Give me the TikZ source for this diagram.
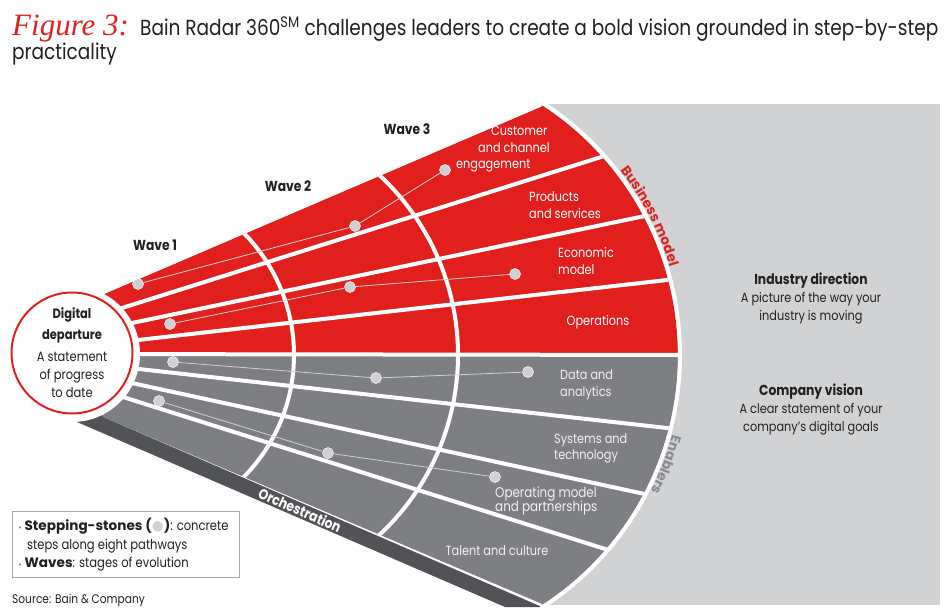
\documentclass[tikz,border=0pt]{standalone}
\usepackage{fontspec}
\setmainfont{Poppins}[FakeStretch=0.85]
\newfontfamily\widefont{Poppins}
\newfontfamily\handfont{Liberation Serif}
\newfontfamily\glyphfont{DejaVu Sans}
\usetikzlibrary{calc,decorations.text}

\definecolor{bainred}{RGB}{225,32,30}
\definecolor{fangray}{RGB}{126,127,131}
\definecolor{banddark}{RGB}{82,83,86}
\definecolor{panelgray}{RGB}{209,210,212}
\definecolor{stonegray}{RGB}{208,209,211}
\definecolor{enablegray}{RGB}{138,139,143}
\definecolor{inkdark}{RGB}{35,31,32}

\begin{document}
\begin{tikzpicture}[x=1pt,y=-1pt]

\tikzstyle{sectorlbl} = [font=\fontsize{13.3}{16.5}\selectfont, text=white, inner sep=0, align=left]%
\tikzstyle{wavelbl} = [font=\fontsize{14.5}{16}\selectfont\bfseries, text=inkdark, inner sep=0]%
\tikzstyle{stone} = [circle, fill=stonegray, draw=white, line width=0.5pt, minimum size=11pt, inner sep=0]%
\tikzstyle{stonelink} = [draw=stonegray, line width=0.8pt]%
\tikzstyle{divider} = [white, line width=4pt]%
\tikzstyle{sidehead} = [font=\fontsize{14.5}{16}\selectfont\bfseries, text=inkdark, inner sep=0]%
\tikzstyle{sidetext} = [font=\fontsize{13.3}{18}\selectfont, text=inkdark, align=center, inner sep=0]%

\useasboundingbox (0,0) rectangle (950,613);

% title
\node[anchor=base west, inner sep=0, text=bainred, font=\fontsize{31}{32}\selectfont\handfont\itshape] (fig) at (12,35) {Figure 3:};
\node[anchor=base west, inner sep=0, text=inkdark, font=\fontsize{21.8}{24}\selectfont] (title) at (140,35)
  {Bain Radar 360\textsuperscript{SM} challenges leaders to create a bold vision grounded in step-by-step};
\node[anchor=base west, inner sep=0, text=inkdark, font=\fontsize{21.8}{24}\selectfont] (title2) at (12,59) {practicality};

% right panel
\fill[panelgray] (541,104) rectangle (940,605);

\coordinate (hub) at (72,354);
\coordinate (co) at (380,355);
\coordinate (c2) at (121,355);
\coordinate (c3) at (213,355);

% sectors and side band
\fill[bainred] (hub) -- (102,295) -- (543,106) arc[start angle=-56.8, end angle=0, radius=298] -- cycle;
\fill[fangray] (hub) -- (678,355) arc[start angle=0, end angle=56.8, radius=298] -- (103,417) -- cycle;
\fill[banddark] (hub) -- (103,417) -- (542,607) -- (505,607) -- (77,422) -- cycle;

\coordinate (r1a) at (122,308); \coordinate (r1b) at (598,158);
\coordinate (r2a) at (132,323); \coordinate (r2b) at (640,217);
\coordinate (r3a) at (138,340); \coordinate (r3b) at (667,280);
\coordinate (g1a) at (130,368); \coordinate (g1b) at (667,428);
\coordinate (g2a) at (127,382); \coordinate (g2b) at (640,493);
\coordinate (g3a) at (123,397); \coordinate (g3b) at (602,548);

\begin{scope}
\clip (hub) -- (102,295) -- (543,106) arc[start angle=-56.8, end angle=56.8, radius=298] -- (103,417) -- cycle;
\draw[divider] ($(r1a)!-20pt!(r1b)$) -- ($(r1b)!-20pt!(r1a)$);
\draw[divider] ($(r2a)!-20pt!(r2b)$) -- ($(r2b)!-20pt!(r2a)$);
\draw[divider] ($(r3a)!-20pt!(r3b)$) -- ($(r3b)!-20pt!(r3a)$);
\draw[divider] (hub) -- (700,355);
\draw[divider] ($(g1a)!-20pt!(g1b)$) -- ($(g1b)!-20pt!(g1a)$);
\draw[divider] ($(g2a)!-20pt!(g2b)$) -- ($(g2b)!-20pt!(g2a)$);
\draw[divider] ($(g3a)!-20pt!(g3b)$) -- ($(g3b)!-20pt!(g3a)$);
% wave borders
\draw[divider] ($(c2)+(-50:173)$) arc[start angle=-50, end angle=50, radius=173];
\draw[divider] ($(c3)+(-52:245)$) arc[start angle=-52, end angle=52, radius=245];
\end{scope}

\draw[divider] ($(co)+(-57.5:300)$) arc[start angle=-57.5, end angle=57.5, radius=300];

% digital departure
\fill[white] (hub) circle (68);
\node[circle, draw=bainred, line width=2pt, fill=white, minimum size=121pt, inner sep=0,
  font=\fontsize{13.5}{18}\selectfont, text=inkdark, align=center] (depart) at (72,353)
  {\textbf{Digital}\\[3pt]\textbf{departure}\\[4pt]A statement\\of progress\\to date};

% stepping-stones
\node[stone] (s1a) at (138,284) {};
\node[stone] (s1b) at (355,226) {};
\node[stone] (s1c) at (445,170) {};
\node[stone] (s2a) at (170,324) {};
\node[stone] (s2b) at (350,287) {};
\node[stone] (s2c) at (515,274) {};
\node[stone] (s3a) at (173,362) {};
\node[stone] (s3b) at (376,378) {};
\node[stone] (s3c) at (528,372) {};
\node[stone] (s4a) at (159,401) {};
\node[stone] (s4b) at (328,453) {};
\node[stone] (s4c) at (495,477) {};

\draw[stonelink] (s1a) -- (s1b) -- (s1c);
\draw[stonelink] (s2a) -- (s2b) -- (s2c);
\draw[stonelink] (s3a) -- (s3b) -- (s3c);
\draw[stonelink] (s4a) -- (s4b) -- (s4c);

% waves
\node[wavelbl] (w1) at (155,245) {Wave 1};
\node[wavelbl] (w2) at (288,186) {Wave 2};
\node[wavelbl] (w3) at (407,129) {Wave 3};

% pathways
\node[sectorlbl, anchor=north west] (cust) at (456,126) {\hspace*{35pt}Customer\\\hspace*{22pt}and channel\\engagement};
\node[sectorlbl, anchor=west] (prod) at (529,205) {Products\\and services};
\node[sectorlbl, anchor=west] (econ) at (558,261) {Economic\\model};
\node[sectorlbl, anchor=center] (oper) at (598,322) {Operations};
\node[sectorlbl, anchor=west, text=white!95!black] (data) at (560,385) {Data and\\analytics};
\node[sectorlbl, anchor=west, text=white!95!black] (syst) at (554,448.5) {Systems and\\technology};
\node[sectorlbl, anchor=west, text=white!95!black, font=\fontsize{14}{14.5}\selectfont] (opmod) at (495,501) {Operating model\\and partnerships};
\node[sectorlbl, anchor=center, text=white!95!black] (talent) at (497,551) {Talent and culture};

\node[white, font=\fontsize{14.5}{15}\selectfont\bfseries, rotate=-24, inner sep=0] (orch) at (300,510) {Orchestration};

\path[decorate, decoration={text along path, text align=center, text color=bainred,
  text={|\widefont\bfseries\fontsize{13.5}{15}\selectfont|Business model}}]
  ($(co)+(-45:303)$) arc[start angle=-45, end angle=-9.5, radius=303];
\path[decorate, decoration={text along path, text align=center, text color=enablegray,
  text={|\widefont\bfseries\fontsize{13.5}{15}\selectfont|Enablers}}]
  ($(co)+(9:303)$) arc[start angle=9, end angle=33, radius=303];

% panel text
\node[sidehead] (ind) at (811,281) {Industry direction};
\node[sidetext] (indtxt) at (811,308) {A picture of the way your\\industry is moving};
\node[sidehead] (comp) at (811,392) {Company vision};
\node[sidetext] (comptxt) at (811,419) {A clear statement of your\\company's digital goals};

% key
\draw[gray!70, line width=0.8pt] (12,511) rectangle (239,577);
\node[anchor=north west, inner sep=0, align=left, text=inkdark, font=\fontsize{13.6}{18.5}\selectfont] (key) at (18,518)
  {{\fontsize{7}{7}\glyphfont\textcolor{gray}{•}}\,{\widefont\bfseries Stepping-stones (}{\glyphfont\textcolor{stonegray}{●}}{\widefont\bfseries )}: concrete\\
   \hspace*{9pt}steps along eight pathways\\
   {\fontsize{7}{7}\glyphfont\textcolor{gray}{•}}\,{\widefont\bfseries Waves}: stages of evolution};

\node[anchor=base west, inner sep=0, text=inkdark, font=\fontsize{12.5}{14}\selectfont] (src) at (12,603) {Source: Bain \& Company};

\end{tikzpicture}
\end{document}
